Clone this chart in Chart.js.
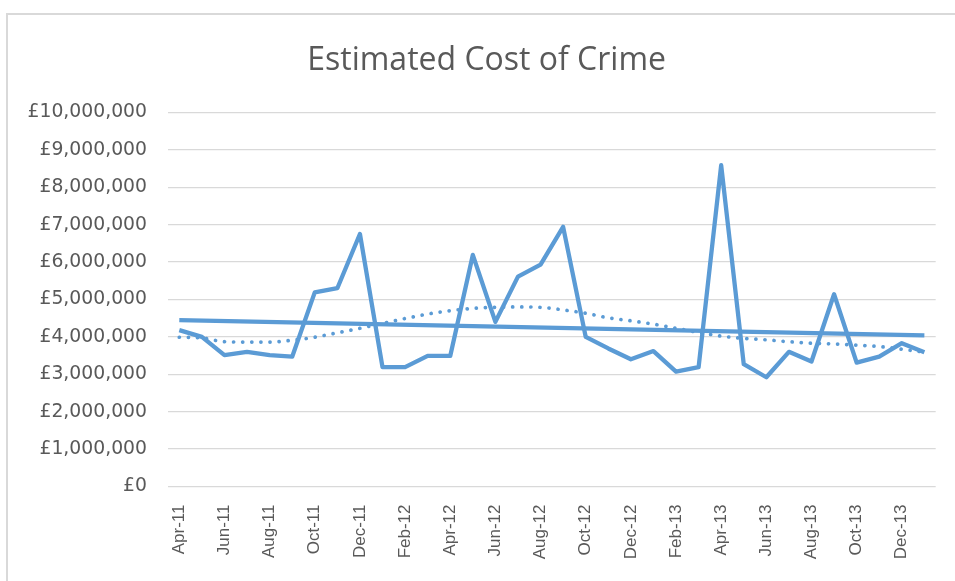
<!DOCTYPE html>
<html>
<head>
<meta charset="utf-8">
<script src="https://cdn.jsdelivr.net/npm/chart.js@4"></script>
<style>
html, body { margin: 0; padding: 0; background: #fff; overflow: hidden; }
#frame { position: absolute; left: 6px; top: 13px; width: 960px; height: 580px; border: 2px solid #d9d9d9; box-sizing: border-box; }
#wrap { position: absolute; left: 0; top: 0; width: 955px; height: 581px; }
</style>
</head>
<body>
<div id="frame"></div>
<div id="wrap"><canvas id="crime"></canvas></div>
<script>
// months Apr-11 .. Jan-14
var meses = ['Apr-11','May-11','Jun-11','Jul-11','Aug-11','Sep-11','Oct-11','Nov-11','Dec-11',
    'Jan-12','Feb-12','Mar-12','Apr-12','May-12','Jun-12','Jul-12','Aug-12','Sep-12','Oct-12','Nov-12','Dec-12',
    'Jan-13','Feb-13','Mar-13','Apr-13','May-13','Jun-13','Jul-13','Aug-13','Sep-13','Oct-13','Nov-13','Dec-13',
    'Jan-14']

var custo = [4180000, 4000000, 3510000, 3600000, 3510000, 3470000, 5190000, 5300000, 6750000,
    3190000, 3190000, 3490000, 3490000, 6190000, 4400000, 5610000, 5930000, 6940000, 4000000, 3690000, 3400000,
    3620000, 3070000, 3190000, 8590000, 3270000, 2920000, 3600000, 3340000, 5140000, 3310000, 3470000, 3830000,
    3590000]

// polynomial trend
var tendencia_poly = [3990000, 3970000, 3870000, 3860000, 3860000, 3910000, 3990000, 4110000, 4230000,
    4360000, 4490000, 4610000, 4700000, 4760000, 4790000, 4800000, 4790000, 4720000, 4630000, 4510000, 4430000,
    4340000, 4230000, 4120000, 4020000, 3960000, 3920000, 3870000, 3830000, 3810000, 3780000, 3740000, 3670000,
    3590000]

// linear trend: only the ends
var linear_inicio = 4450000
var linear_fim = 4040000

var tendencia_linear = meses.map(function(m, i){
    if(i == 0) return linear_inicio
    if(i == meses.length - 1) return linear_fim
    return null
})

var azul = '#5b9bd5'

const ctx = document.getElementById('crime').getContext('2d');
const myChart = new Chart(ctx, {
    type: 'line',
    data: {
        labels: meses,
        datasets: [{
            label: 'Cost',
            data: custo,
            borderColor: azul,
            borderWidth: 4.3,
            pointRadius: 0,
            tension: 0,
            borderJoinStyle: 'round'
        }, {
            label: 'Linear',
            data: tendencia_linear,
            borderColor: azul,
            borderWidth: 4.3,
            pointRadius: 0,
            spanGaps: true
        }, {
            label: 'Poly',
            data: tendencia_poly,
            borderColor: azul,
            borderWidth: 3.7,
            borderCapStyle: 'round',
            borderDash: [0.1, 9],
            pointRadius: 0,
            cubicInterpolationMode: 'monotone'
        }]
    },
    options: {
        responsive: true,
        maintainAspectRatio: false,
        animation: false,
        layout: {
            padding: { left: 0, right: 15, top: 0, bottom: 0 }
        },
        plugins: {
            legend: { display: false },
            tooltip: { enabled: false },
            title: {
                display: true,
                // leading spaces nudge the title right, like the original
                text: '    Estimated Cost of Crime',
                color: '#595959',
                font: { family: 'Open Sans', size: 32, weight: 'normal' },
                padding: { top: 42, bottom: 32 }
            }
        },
        scales: {
            x: {
                offset: true,
                grid: { display: false },
                border: { display: false },
                afterFit: function(s){ s.height = 94.5 },
                ticks: {
                    autoSkip: false,
                    maxRotation: 90,
                    minRotation: 90,
                    padding: 10,
                    color: '#595959',
                    font: { family: 'Liberation Sans', size: 17 },
                    callback: function(v, i){ return i % 2 == 0 ? meses[i] : '' }
                }
            },
            y: {
                min: 0,
                max: 10000000,
                afterFit: function(s){ s.width = 168 },
                grid: { color: '#d9d9d9', lineWidth: 1.3, drawTicks: false },
                border: { display: false },
                ticks: {
                    stepSize: 1000000,
                    padding: 21,
                    color: '#595959',
                    font: { family: 'DejaVu Sans', size: 18.8 },
                    callback: function(v){ return '£' + v.toLocaleString('en-GB') }
                }
            }
        }
    }
});
</script>
</body>
</html>
